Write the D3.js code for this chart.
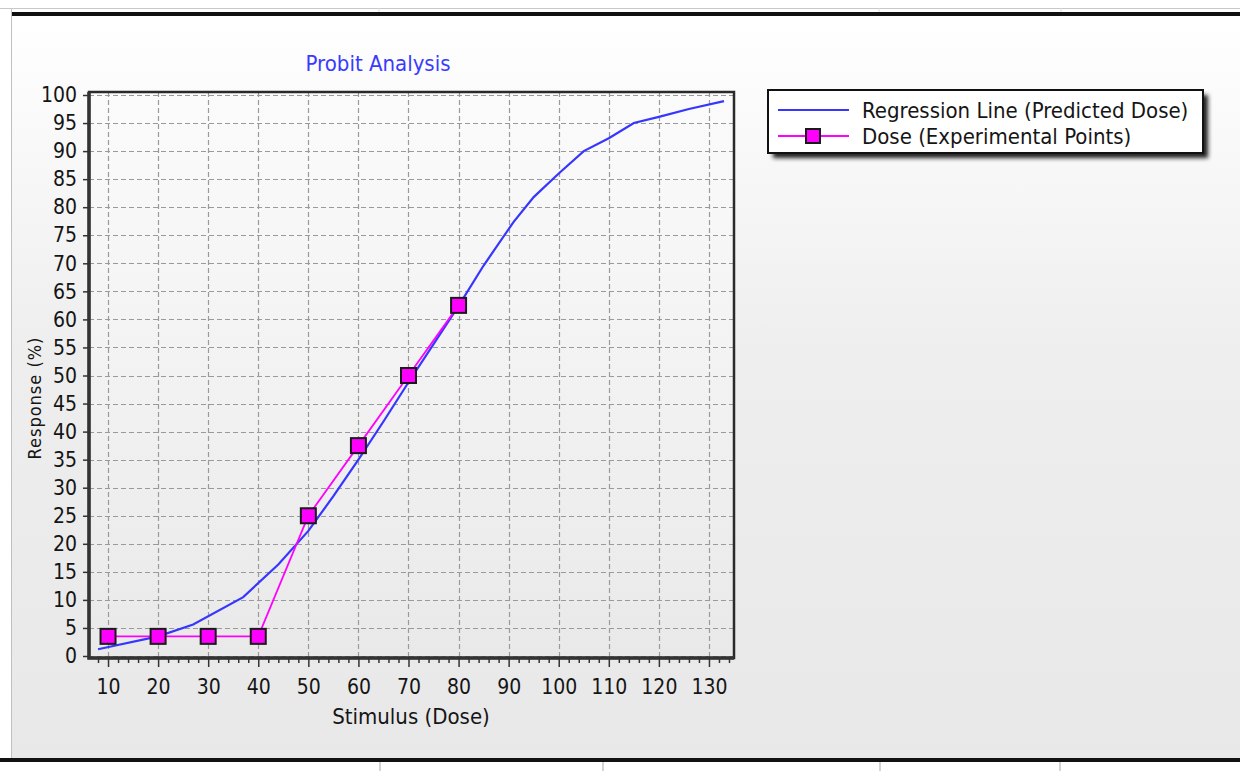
<!DOCTYPE html>
<html>
<head>
<meta charset="utf-8">
<script src="https://cdn.jsdelivr.net/npm/d3@7/dist/d3.min.js"></script>
<style>
  html, body { margin: 0; padding: 0; background: #fff; }
  svg { display: block; }
  text { font-family: "DejaVu Sans Condensed", "DejaVu Sans", sans-serif; fill: #151515; }
</style>
</head>
<body>
<svg id="chart" width="1240" height="771"></svg>
<script>
  // Tick labels.
  var xTickValues = [ 10, 20, 30, 40, 50, 60, 70, 80, 90, 100, 110, 120, 130 ];
  var yTickValues = [ 0, 5, 10, 15, 20, 25, 30, 35, 40, 45, 50,
                      55, 60, 65, 70, 75, 80, 85, 90, 95, 100 ];

  // Experimental points.
  var doseLevels = [ 10, 20, 30, 40, 50, 60, 70, 80 ];
  var responses  = [ 3.5, 3.5, 3.5, 3.5, 25, 37.5, 50, 62.5 ];

  // Regression line (predicted dose).
  var regressionDose     = [ 8, 20, 27, 37, 44, 50, 55, 60, 65, 70, 75, 80,
                             85, 91, 95, 100, 105, 110, 115, 120, 126, 133 ];
  var regressionResponse = [ 1.2, 3.5, 5.6, 10.5, 16.3, 22.3, 28.5, 35, 41.8, 48.8, 55.6, 62.4,
                             69.6, 77.4, 81.8, 86, 90, 92.3, 95, 96.1, 97.5, 98.9 ];

  var legendLabels = [ 'Regression Line (Predicted Dose)', 'Dose (Experimental Points)' ];

  var blue    = '#3636ff',
      magenta = '#ff00ff';

  var svg = d3.select( '#chart' );

  // Plot frame.
  var plotLeft = 89, plotRight = 734, plotTop = 92, plotBottom = 658;

  var x = d3.scaleLinear().domain([ 6.2, 135 ]).range([ plotLeft, plotRight ]),
      y = d3.scaleLinear().domain([ 0, 100 ]).range([ 656, 95 ]);

  var defs = svg.append( 'defs' );

  var bgGrad = defs.append( 'linearGradient' )
    .attr( 'id', 'bg' ).attr( 'x1', 0 ).attr( 'y1', 0 ).attr( 'x2', 0 ).attr( 'y2', 1 );
  bgGrad.append( 'stop' ).attr( 'offset', 0 ).attr( 'stop-color', '#ffffff' );
  bgGrad.append( 'stop' ).attr( 'offset', 0.45 ).attr( 'stop-color', '#eeeeee' );
  bgGrad.append( 'stop' ).attr( 'offset', 1 ).attr( 'stop-color', '#e8e8e8' );

  var plotGrad = defs.append( 'linearGradient' )
    .attr( 'id', 'plotbg' ).attr( 'x1', 0 ).attr( 'y1', 0 ).attr( 'x2', 0 ).attr( 'y2', 1 );
  plotGrad.append( 'stop' ).attr( 'offset', 0 ).attr( 'stop-color', '#fbfbfb' );
  plotGrad.append( 'stop' ).attr( 'offset', 1 ).attr( 'stop-color', '#e9e9e9' );

  var blur = defs.append( 'filter' ).attr( 'id', 'shadow' )
    .attr( 'x', '-10%' ).attr( 'y', '-20%' ).attr( 'width', '130%' ).attr( 'height', '160%' );
  blur.append( 'feGaussianBlur' ).attr( 'stdDeviation', 2 );

  // Window chrome: thin gray rules and heavy black borders.
  svg.append( 'line' )
    .attr( 'x1', 0 ).attr( 'x2', 1240 ).attr( 'y1', 8.5 ).attr( 'y2', 8.5 )
    .style( 'stroke', '#c8c8c8' );
  [ 379, 879, 1061 ].forEach( function( cx ) {
    svg.append( 'line' )
      .attr( 'x1', cx ).attr( 'x2', cx ).attr( 'y1', 8 ).attr( 'y2', 13 )
      .style( 'stroke', '#dddddd' );
  });
  [ 380, 603, 880, 1060 ].forEach( function( cx ) {
    svg.append( 'line' )
      .attr( 'x1', cx ).attr( 'x2', cx ).attr( 'y1', 762 ).attr( 'y2', 771 )
      .style( 'stroke', '#d4d4d4' ).style( 'stroke-width', 2 );
  });

  svg.append( 'rect' )
    .attr( 'x', 12 ).attr( 'y', 16 ).attr( 'width', 1228 ).attr( 'height', 742 )
    .style( 'fill', 'url(#bg)' );
  svg.append( 'line' )
    .attr( 'x1', 11.5 ).attr( 'x2', 11.5 ).attr( 'y1', 9 ).attr( 'y2', 758 )
    .style( 'stroke', '#c0c0c0' );
  svg.append( 'rect' )
    .attr( 'x', 12 ).attr( 'y', 12 ).attr( 'width', 1228 ).attr( 'height', 4 )
    .style( 'fill', '#111' );
  svg.append( 'rect' )
    .attr( 'x', 0 ).attr( 'y', 758 ).attr( 'width', 1240 ).attr( 'height', 4 )
    .style( 'fill', '#111' );

  // Plot background.
  svg.append( 'rect' )
    .attr( 'x', plotLeft ).attr( 'y', plotTop )
    .attr( 'width', plotRight - plotLeft ).attr( 'height', plotBottom - plotTop )
    .style( 'fill', 'url(#plotbg)' );

  // Dashed grid.
  var grid = svg.append( 'g' ).attr( 'class', 'grid' );

  grid.selectAll( 'line.v' )
    .data( xTickValues )
    .enter().append( 'line' )
      .attr( 'class', 'v' )
      .attr( 'x1', function( d ) { return Math.round( x( d ) ) + 0.5; } )
      .attr( 'x2', function( d ) { return Math.round( x( d ) ) + 0.5; } )
      .attr( 'y1', plotTop ).attr( 'y2', plotBottom );

  grid.selectAll( 'line.h' )
    .data( yTickValues )
    .enter().append( 'line' )
      .attr( 'class', 'h' )
      .attr( 'y1', function( d ) { return Math.round( y( d ) ) + 0.5; } )
      .attr( 'y2', function( d ) { return Math.round( y( d ) ) + 0.5; } )
      .attr( 'x1', plotLeft ).attr( 'x2', plotRight );

  grid.selectAll( 'line' )
    .style( 'stroke', '#9a9a9a' )
    .style( 'stroke-width', 1.2 )
    .style( 'stroke-dasharray', '5,3' );

  // Axes.
  var minorX = d3.range( 8, 135, 2 ).filter( function( d ) { return d % 10 !== 0; } );

  var xMinor = svg.append( 'g' )
    .attr( 'transform', 'translate(0,' + plotBottom + ')' )
    .call( d3.axisBottom( x ).tickValues( minorX ).tickSize( 5 ).tickFormat( '' ) );

  var xAxis = svg.append( 'g' )
    .attr( 'transform', 'translate(0,' + plotBottom + ')' )
    .call( d3.axisBottom( x ).tickValues( xTickValues ).tickSize( 9 ).tickPadding( 12 ) );

  var yAxis = svg.append( 'g' )
    .attr( 'transform', 'translate(' + plotLeft + ',0)' )
    .call( d3.axisLeft( y ).tickValues( yTickValues ).tickSize( 6 ).tickPadding( 6 ) );

  [ xMinor, xAxis, yAxis ].forEach( function( g ) {
    g.select( '.domain' ).remove();
    g.selectAll( 'line' ).style( 'stroke', '#333' ).style( 'stroke-width', 1.5 );
    g.selectAll( 'text' )
      .style( 'font-size', '21px' )
      .style( 'fill', '#151515' );
  });

  // Frame: heavy left/bottom, lighter top/right.
  svg.append( 'rect' )
    .attr( 'x', plotLeft ).attr( 'y', plotTop )
    .attr( 'width', plotRight - plotLeft ).attr( 'height', plotBottom - plotTop )
    .style( 'fill', 'none' )
    .style( 'stroke', '#2a2a2a' )
    .style( 'stroke-width', 2.5 );
  svg.append( 'path' )
    .attr( 'd', 'M' + plotLeft + ',' + plotTop + 'V' + plotBottom + 'H' + plotRight )
    .style( 'fill', 'none' )
    .style( 'stroke', '#333' )
    .style( 'stroke-width', 3.5 );

  // Regression line.
  var line = d3.line()
    .x( function( d ) { return x( d[ 0 ] ); } )
    .y( function( d ) { return y( d[ 1 ] ); } );

  var regression = d3.zip( regressionDose, regressionResponse );
  var points     = d3.zip( doseLevels, responses );

  svg.append( 'path' )
    .datum( regression )
    .attr( 'd', line )
    .style( 'fill', 'none' )
    .style( 'stroke', blue )
    .style( 'stroke-width', 2.2 );

  // Experimental points.
  svg.append( 'path' )
    .datum( points )
    .attr( 'd', line )
    .style( 'fill', 'none' )
    .style( 'stroke', magenta )
    .style( 'stroke-width', 1.8 );

  var sq = 15;
  svg.selectAll( 'rect.point' )
    .data( points )
    .enter().append( 'rect' )
      .attr( 'class', 'point' )
      .attr( 'x', function( d ) { return x( d[ 0 ] ) - sq / 2; } )
      .attr( 'y', function( d ) { return y( d[ 1 ] ) - sq / 2; } )
      .attr( 'width', sq ).attr( 'height', sq )
      .style( 'fill', magenta )
      .style( 'stroke', '#1a1a1a' )
      .style( 'stroke-width', 2 );

  // Titles.
  svg.append( 'text' )
    .attr( 'x', 378 ).attr( 'y', 71 )
    .attr( 'text-anchor', 'middle' )
    .style( 'font-size', '22px' )
    .style( 'fill', '#3a3aff' )
    .text( 'Probit Analysis' );

  svg.append( 'text' )
    .attr( 'x', 411 ).attr( 'y', 724 )
    .attr( 'text-anchor', 'middle' )
    .style( 'font-size', '22px' )
    .text( 'Stimulus (Dose)' );

  svg.append( 'text' )
    .attr( 'transform', 'translate(41,398) rotate(-90)' )
    .attr( 'text-anchor', 'middle' )
    .style( 'font-size', '18px' )
    .style( 'letter-spacing', '1px' )
    .text( 'Response (%)' );

  // Legend.
  var legend = svg.append( 'g' ).attr( 'transform', 'translate(768,90)' );
  var lw = 435, lh = 63;

  legend.append( 'rect' )
    .attr( 'x', 5 ).attr( 'y', 5 ).attr( 'width', lw ).attr( 'height', lh )
    .style( 'fill', '#222' )
    .attr( 'filter', 'url(#shadow)' );
  legend.append( 'rect' )
    .attr( 'width', lw ).attr( 'height', lh )
    .style( 'fill', '#fff' )
    .style( 'stroke', '#111' )
    .style( 'stroke-width', 2 );

  var item = legend.selectAll( 'g.item' )
    .data( legendLabels )
    .enter().append( 'g' )
      .attr( 'class', 'item' )
      .attr( 'transform', function( d, i ) { return 'translate(0,' + ( 20 + i * 26 ) + ')'; } );

  item.append( 'line' )
    .attr( 'x1', 10 ).attr( 'x2', 81 )
    .style( 'stroke', function( d, i ) { return i ? magenta : blue; } )
    .style( 'stroke-width', 2.2 );

  item.filter( function( d, i ) { return i === 1; } )
    .append( 'rect' )
      .attr( 'x', 45 - 7 ).attr( 'y', -7 ).attr( 'width', 14 ).attr( 'height', 14 )
      .style( 'fill', magenta )
      .style( 'stroke', '#1a1a1a' )
      .style( 'stroke-width', 2 );

  item.append( 'text' )
    .attr( 'x', 94 ).attr( 'dy', '0.36em' )
    .style( 'font-size', '22px' )
    .text( function( d ) { return d; } );
</script>
</body>
</html>
